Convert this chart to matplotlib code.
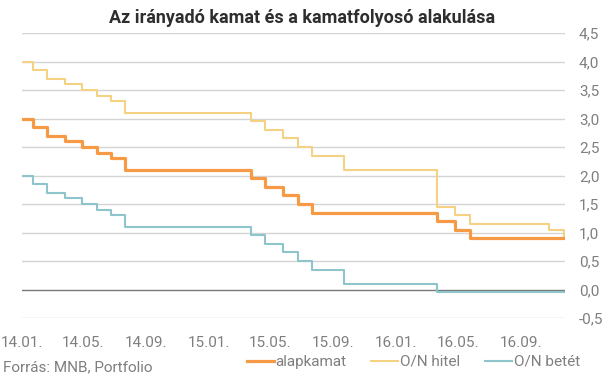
import matplotlib
matplotlib.use("Agg")
import matplotlib.pyplot as plt
import numpy as np
import pandas as pd

dates = ["2014-01-01", "2014-01-22", "2014-02-18", "2014-03-25", "2014-04-29",
         "2014-05-27", "2014-06-24", "2014-07-22", "2015-03-24", "2015-04-21",
         "2015-05-26", "2015-06-23", "2015-07-21", "2015-09-22", "2016-03-22",
         "2016-04-26", "2016-05-24", "2016-10-25", "2016-11-24"]
alapkamat = [3.00, 2.85, 2.70, 2.60, 2.50, 2.40, 2.30, 2.10, 1.95, 1.80,
             1.65, 1.50, 1.35, 1.35, 1.20, 1.05, 0.90, 0.90, 0.90]
on_hitel = [4.00, 3.85, 3.70, 3.60, 3.50, 3.40, 3.30, 3.10, 2.95, 2.80,
            2.65, 2.50, 2.35, 2.10, 1.45, 1.30, 1.15, 1.05, 0.90]
on_betet = [2.00, 1.85, 1.70, 1.60, 1.50, 1.40, 1.30, 1.10, 0.95, 0.80,
            0.65, 0.50, 0.35, 0.10, -0.05, -0.05, -0.05, -0.05, -0.05]
xtick_dates = ["2014-01-01", "2014-05-01", "2014-09-01", "2015-01-01", "2015-05-01",
               "2015-09-01", "2016-01-01", "2016-05-01", "2016-09-01"]
xtick_labels = ["14.01.", "14.05.", "14.09.", "15.01.", "15.05.",
                "15.09.", "16.01.", "16.05.", "16.09."]
yticks = [-0.5, 0.0, 0.5, 1.0, 1.5, 2.0, 2.5, 3.0, 3.5, 4.0, 4.5]

plt.rcParams['font.family'] = ['Roboto', 'DejaVu Sans']

x = pd.to_datetime(dates)
fig = plt.figure(figsize=(6.05, 3.78), dpi=100)
ax = fig.add_axes([22/605, 1-318/378, (565-22)/605, (318-33)/378])

gray_txt = "#7f7f7f"
for yv in yticks:
    if yv == 0:
        ax.axhline(yv, color="#7a7a7a", lw=1.0, zorder=1)
    else:
        ax.axhline(yv, color="#d4d4d4", lw=1.0, zorder=1)

ax.plot(x, on_hitel, drawstyle="steps-post", color="#F5D283", lw=1.5, zorder=3, label="O/N hitel")
ax.plot(x, on_betet, drawstyle="steps-post", color="#8EC4CC", lw=1.5, zorder=3, label="O/N betét")
ax.plot(x, alapkamat, drawstyle="steps-post", color="#F79A45", lw=2.3, zorder=4, label="alapkamat")

ax.set_xlim(pd.Timestamp("2014-01-01"), pd.Timestamp("2016-11-26"))
ax.set_ylim(-0.5, 4.5)
for s in ax.spines.values():
    s.set_visible(False)
ax.yaxis.tick_right()
ax.set_yticks(yticks)
ax.set_yticklabels([f"{v:.1f}".replace(".", ",") for v in yticks])
ax.set_xticks(pd.to_datetime(xtick_dates))
ax.set_xticklabels(xtick_labels)
ax.tick_params(axis="both", length=0, labelsize=11, labelcolor=gray_txt)
ax.tick_params(axis="y", pad=10)
ax.tick_params(axis="x", pad=13)
ax.grid(False)

fig.text(0.5, 1-18/378, "Az irányadó kamat és a kamatfolyosó alakulása",
         ha="center", va="center", fontsize=13, fontweight="bold", color="#2e2e2e")
fig.text(3/605, 1-367/378, "Forrás: MNB, Portfolio", ha="left", va="center",
         fontsize=11, color=gray_txt)

h, l = ax.get_legend_handles_labels()
order = [2, 0, 1]
leg = fig.legend([h[i] for i in order], [l[i] for i in order], loc="center right",
                 bbox_to_anchor=(580/605, 1-362/378), ncol=3, frameon=False,
                 fontsize=11, handlelength=1.77, handletextpad=0.13, columnspacing=1.6,
                 labelcolor=gray_txt, borderpad=0, borderaxespad=0)

fig.savefig("out.png", dpi=100)
